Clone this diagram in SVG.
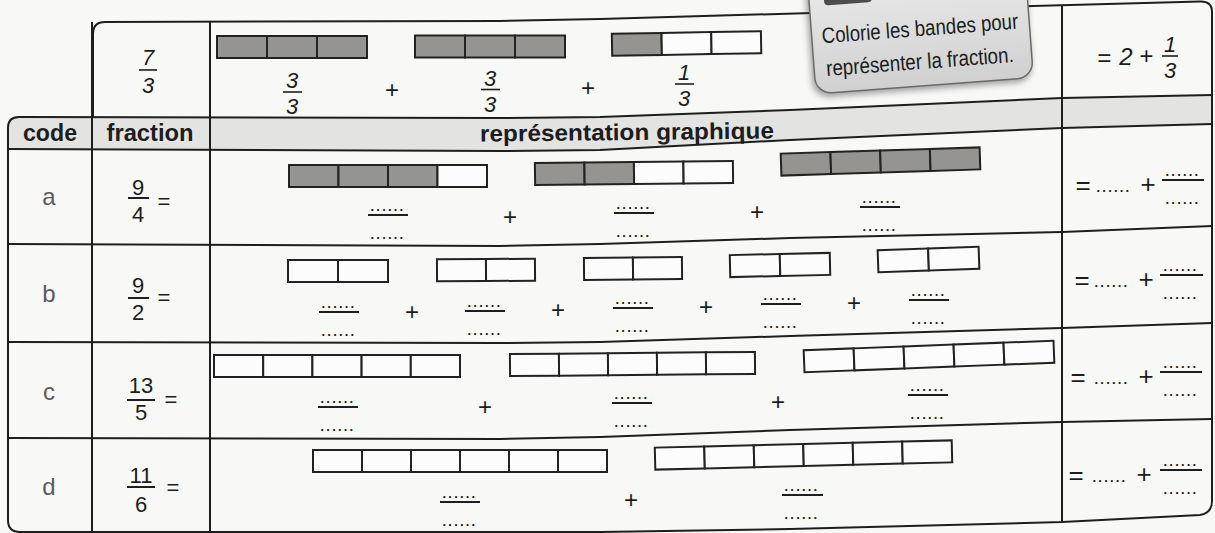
<svg xmlns="http://www.w3.org/2000/svg" width="1215" height="533" viewBox="0 0 1215 533">
<defs>
<linearGradient id="hintFill" x1="0" y1="0" x2="0" y2="1">
<stop offset="0" stop-color="#ebebeb"/><stop offset="1" stop-color="#d0d0d0"/>
</linearGradient>
<filter id="sh" x="-10%" y="-10%" width="130%" height="140%"><feGaussianBlur stdDeviation="3"/></filter>
</defs>
<style>
.t{font-family:"Liberation Sans",Arial,sans-serif;fill:#1c1c1c}
.hd{font-size:23px;font-weight:bold;text-anchor:middle}
.code{font-size:24px;fill:#5f5a5a;text-anchor:middle}
.num{font-size:22px;text-anchor:middle}
.it{font-style:italic}
.op{font-size:24px;text-anchor:middle}
.big{font-size:26px;text-anchor:middle}
.d{font-size:13px;font-weight:bold;text-anchor:middle;letter-spacing:2.2px}
.hint{font-size:22px}
.ln{fill:none;stroke:#1e1e1e;stroke-width:2;stroke-linejoin:round}
.fl{stroke:#1e1e1e;stroke-width:2}
.ft{stroke:#1e1e1e;stroke-width:1.6}
.g{fill:#969490;stroke:#222;stroke-width:2}
.w{fill:#fcfcfc;stroke:#222;stroke-width:2}
</style>
<rect width="1215" height="533" fill="#f8f8f7"/>

<g id="header-fill">
<path d="M8,128 Q8,117 19,117 L500,118 L600,117 L790,110 L1062,98 L1212,95 L1212,124 L1062,128 L790,140 L600,150 L500,151 L8,149 Z" fill="#e3e3e2"/>
</g>

<g id="grid">
<path class="ln" d="M93,118 V34 Q93,22 105,22 L500,21 L600,19 L812,13 L1033,6 L1200,1.5 Q1212,1 1212,12"/>
<path class="ln" d="M8,128 Q8,117 19,117 L500,118 L600,117 L790,110 L1062,98 L1212,95"/>
<path class="ln" d="M8,149 L500,151 L600,150 L790,140 L1062,128 L1212,124"/>
<path class="ln" d="M8,244 L500,246 L600,244 L790,238 L1062,232 L1212,226"/>
<path class="ln" d="M8,342 L500,343 L600,342 L790,336 L1062,328 L1212,323"/>
<path class="ln" d="M8,438 L500,439 L600,437 L790,430 L1062,422 L1212,419"/>
<path class="ln" d="M8,128 V520 Q8,532 20,532 L600,532 L790,529 L1062,522 L1200,515 Q1212,513 1212,501 V12"/>
<path class="ln" d="M92,22 V532 M210,21 V532 M1062,5 V522"/>
</g>

<g id="top-row">
<text class="t num it" x="148" y="65">7</text>
<line class="ft" x1="139" y1="70" x2="157" y2="70"/>
<text class="t num it" x="148" y="93">3</text>
<g id="bar-top-1" transform="translate(217,36)">
<rect class="g" x="0" width="50" height="22"/><rect class="g" x="50" width="50" height="22"/><rect class="g" x="100" width="50" height="22"/>
</g>
<g id="bar-top-2" transform="translate(415,35.5)">
<rect class="g" x="0" width="50" height="22"/><rect class="g" x="50" width="50" height="22"/><rect class="g" x="100" width="50" height="22"/>
</g>
<g id="bar-top-3" transform="translate(612,32.5) rotate(-1 74.5 11)">
<rect class="g" x="0" width="49.7" height="22"/><rect class="w" x="49.7" width="49.7" height="22"/><rect class="w" x="99.4" width="49.7" height="22"/>
</g>
<text class="t num it" x="292" y="88">3</text>
<line class="ft" x1="283" y1="92" x2="302" y2="92"/>
<text class="t num it" x="292" y="114">3</text>
<text class="t op" x="392" y="98">+</text>
<text class="t num it" x="490" y="86">3</text>
<line class="ft" x1="481" y1="89.5" x2="500" y2="89.5"/>
<text class="t num it" x="490" y="112">3</text>
<text class="t op" x="588" y="96">+</text>
<text class="t num it" x="684" y="80">1</text>
<line class="ft" x1="675" y1="84" x2="694" y2="84"/>
<text class="t num it" x="684" y="106">3</text>
<text class="t op it" x="1104" y="66">=</text>
<text class="t op it" x="1126" y="65">2</text>
<text class="t op it" x="1146" y="64">+</text>
<text class="t num it" x="1170" y="52">1</text>
<line class="ft" x1="1162" y1="56" x2="1178" y2="56"/>
<text class="t num it" x="1170" y="78">3</text>
</g>

<g id="header">
<text class="t hd" x="50" y="141" textLength="54" lengthAdjust="spacingAndGlyphs">code</text>
<text class="t hd" x="150" y="141" textLength="87" lengthAdjust="spacingAndGlyphs">fraction</text>
<text class="t hd" x="627" y="140" textLength="294" lengthAdjust="spacingAndGlyphs" transform="rotate(-0.6 627 140)">représentation graphique</text>
</g>

<g id="hint" transform="rotate(-4.3 920 50)">
<rect x="810" y="-28" width="220" height="118" rx="16" fill="#3a3a3a" opacity="0.45" filter="url(#sh)"/>
<rect x="813" y="-30" width="218" height="116" rx="16" fill="url(#hintFill)" stroke="#6a6a6a" stroke-width="1.5"/>
<rect x="828" y="-16" width="48" height="14.5" rx="4" fill="#4c4c4c"/>
<text class="t hint" x="823" y="36" textLength="197" lengthAdjust="spacingAndGlyphs">Colorie les bandes pour</text>
<text class="t hint" x="825" y="69" textLength="188" lengthAdjust="spacingAndGlyphs">représenter la fraction.</text>
</g>

<g id="row-a">
<text class="t code" x="49" y="205">a</text>
<text class="t num" x="138" y="195">9</text>
<line class="fl" x1="128" y1="198" x2="149" y2="198"/>
<text class="t num" x="138" y="222">4</text>
<text class="t num" x="164" y="209">=</text>
<g id="bar-a-1" transform="translate(289,165)">
<rect class="g" x="0" width="49.5" height="22"/><rect class="g" x="49.5" width="49.5" height="22"/><rect class="g" x="99" width="49.5" height="22"/><rect class="w" x="148.5" width="49.5" height="22"/>
</g>
<g id="bar-a-2" transform="translate(535,162) rotate(-0.6 99 11)">
<rect class="g" x="0" width="49.5" height="22"/><rect class="g" x="49.5" width="49.5" height="22"/><rect class="w" x="99" width="49.5" height="22"/><rect class="w" x="148.5" width="49.5" height="22"/>
</g>
<g id="bar-a-3" transform="translate(781,150.5) rotate(-1.8 99.5 11)">
<rect class="g" x="0" width="49.75" height="22"/><rect class="g" x="49.75" width="49.75" height="22"/><rect class="g" x="99.5" width="49.75" height="22"/><rect class="g" x="149.25" width="49.75" height="22"/>
</g>
<line class="fl" x1="368" y1="215" x2="408" y2="215"/><text class="t d" x="388" y="211">......</text><text class="t d" x="388" y="239">......</text>
<text class="t op" x="510" y="225">+</text>
<line class="fl" x1="614" y1="213" x2="654" y2="213"/><text class="t d" x="634" y="209">......</text><text class="t d" x="634" y="237">......</text>
<text class="t op" x="757" y="220">+</text>
<line class="fl" x1="860" y1="207" x2="900" y2="207"/><text class="t d" x="880" y="203">......</text><text class="t d" x="880" y="231">......</text>
<text class="t big" x="1083" y="194">=</text>
<text class="t d" x="1114" y="192">......</text>
<text class="t big" x="1148" y="193">+</text>
<line class="fl" x1="1162" y1="180" x2="1204" y2="180"/><text class="t d" x="1183" y="176">......</text><text class="t d" x="1183" y="204">......</text>
</g>

<g id="row-b">
<text class="t code" x="49" y="302">b</text>
<text class="t num" x="138" y="293">9</text>
<line class="fl" x1="128" y1="298" x2="149" y2="298"/>
<text class="t num" x="138" y="320">2</text>
<text class="t num" x="164" y="305">=</text>
<g id="bar-b-1" transform="translate(288,260)"><rect class="w" x="0" width="50" height="22"/><rect class="w" x="50" width="50" height="22"/></g>
<g id="bar-b-2" transform="translate(437,259) rotate(-0.3 49 11)"><rect class="w" x="0" width="49" height="22"/><rect class="w" x="49" width="49" height="22"/></g>
<g id="bar-b-3" transform="translate(584,257.5) rotate(-0.6 49 11)"><rect class="w" x="0" width="49" height="22"/><rect class="w" x="49" width="49" height="22"/></g>
<g id="bar-b-4" transform="translate(730,254) rotate(-1.3 50 11)"><rect class="w" x="0" width="50" height="22"/><rect class="w" x="50" width="50" height="22"/></g>
<g id="bar-b-5" transform="translate(878,248.5) rotate(-2 50.5 11)"><rect class="w" x="0" width="50.5" height="22"/><rect class="w" x="50.5" width="50.5" height="22"/></g>
<line class="fl" x1="319" y1="312" x2="359" y2="312"/><text class="t d" x="339" y="308">......</text><text class="t d" x="339" y="336">......</text>
<text class="t op" x="412" y="320">+</text>
<line class="fl" x1="465" y1="311" x2="505" y2="311"/><text class="t d" x="485" y="307">......</text><text class="t d" x="485" y="335">......</text>
<text class="t op" x="558" y="318">+</text>
<line class="fl" x1="613" y1="308" x2="653" y2="308"/><text class="t d" x="633" y="304">......</text><text class="t d" x="633" y="332">......</text>
<text class="t op" x="706" y="315">+</text>
<line class="fl" x1="761" y1="304" x2="801" y2="304"/><text class="t d" x="781" y="300">......</text><text class="t d" x="781" y="328">......</text>
<text class="t op" x="854" y="311">+</text>
<line class="fl" x1="909" y1="300" x2="949" y2="300"/><text class="t d" x="929" y="296">......</text><text class="t d" x="929" y="324">......</text>
<text class="t big" x="1082" y="289">=</text>
<text class="t d" x="1112" y="287">......</text>
<text class="t big" x="1146" y="288">+</text>
<line class="fl" x1="1160" y1="275" x2="1203" y2="275"/><text class="t d" x="1181" y="271">......</text><text class="t d" x="1181" y="299">......</text>
</g>

<g id="row-c">
<text class="t code" x="49" y="400">c</text>
<text class="t num" x="141" y="393">13</text>
<line class="fl" x1="127" y1="400" x2="155" y2="400"/>
<text class="t num" x="141" y="420">5</text>
<text class="t num" x="171" y="407">=</text>
<g id="bar-c-1" transform="translate(214,355)">
<rect class="w" x="0" width="49.2" height="22"/><rect class="w" x="49.2" width="49.2" height="22"/><rect class="w" x="98.4" width="49.2" height="22"/><rect class="w" x="147.6" width="49.2" height="22"/><rect class="w" x="196.8" width="49.2" height="22"/>
</g>
<g id="bar-c-2" transform="translate(510,353) rotate(-0.5 122.5 11)">
<rect class="w" x="0" width="49" height="22"/><rect class="w" x="49" width="49" height="22"/><rect class="w" x="98" width="49" height="22"/><rect class="w" x="147" width="49" height="22"/><rect class="w" x="196" width="49" height="22"/>
</g>
<g id="bar-c-3" transform="translate(804,345.5) rotate(-2.2 125 11)">
<rect class="w" x="0" width="50" height="22"/><rect class="w" x="50" width="50" height="22"/><rect class="w" x="100" width="50" height="22"/><rect class="w" x="150" width="50" height="22"/><rect class="w" x="200" width="50" height="22"/>
</g>
<line class="fl" x1="318" y1="407" x2="358" y2="407"/><text class="t d" x="338" y="403">......</text><text class="t d" x="338" y="431">......</text>
<text class="t op" x="485" y="415">+</text>
<line class="fl" x1="612" y1="403" x2="652" y2="403"/><text class="t d" x="632" y="399">......</text><text class="t d" x="632" y="427">......</text>
<text class="t op" x="778" y="410">+</text>
<line class="fl" x1="908" y1="395" x2="948" y2="395"/><text class="t d" x="928" y="391">......</text><text class="t d" x="928" y="419">......</text>
<text class="t big" x="1078" y="386">=</text>
<text class="t d" x="1112" y="384">......</text>
<text class="t big" x="1146" y="385">+</text>
<line class="fl" x1="1160" y1="372" x2="1202" y2="372"/><text class="t d" x="1181" y="368">......</text><text class="t d" x="1181" y="396">......</text>
</g>

<g id="row-d">
<text class="t code" x="49" y="495">d</text>
<text class="t num" x="141" y="483">11</text>
<line class="fl" x1="127" y1="487" x2="155" y2="487"/>
<text class="t num" x="141" y="512">6</text>
<text class="t num" x="173" y="495">=</text>
<g id="bar-d-1" transform="translate(313,450)">
<rect class="w" x="0" width="49" height="22"/><rect class="w" x="49" width="49" height="22"/><rect class="w" x="98" width="49" height="22"/><rect class="w" x="147" width="49" height="22"/><rect class="w" x="196" width="49" height="22"/><rect class="w" x="245" width="49" height="22"/>
</g>
<g id="bar-d-2" transform="translate(655,444) rotate(-1.4 148.5 11)">
<rect class="w" x="0" width="49.5" height="22"/><rect class="w" x="49.5" width="49.5" height="22"/><rect class="w" x="99" width="49.5" height="22"/><rect class="w" x="148.5" width="49.5" height="22"/><rect class="w" x="198" width="49.5" height="22"/><rect class="w" x="247.5" width="49.5" height="22"/>
</g>
<line class="fl" x1="440" y1="502" x2="480" y2="502"/><text class="t d" x="460" y="498">......</text><text class="t d" x="460" y="526">......</text>
<text class="t op" x="631" y="508">+</text>
<line class="fl" x1="782" y1="495" x2="823" y2="495"/><text class="t d" x="802" y="491">......</text><text class="t d" x="802" y="519">......</text>
<text class="t big" x="1076" y="484">=</text>
<text class="t d" x="1110" y="482">......</text>
<text class="t big" x="1144" y="483">+</text>
<line class="fl" x1="1160" y1="470" x2="1202" y2="470"/><text class="t d" x="1181" y="466">......</text><text class="t d" x="1181" y="494">......</text>
</g>
</svg>
